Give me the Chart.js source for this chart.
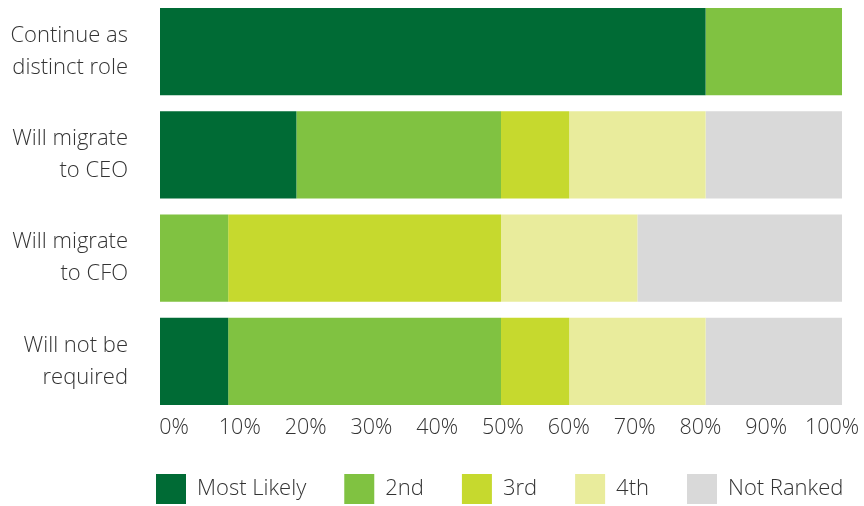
<!DOCTYPE html>
<html>
<head>
<meta charset="utf-8">
<script src="https://cdn.jsdelivr.net/npm/chart.js@4.4.0/dist/chart.umd.min.js"></script>
<style>
  html, body { margin: 0; padding: 0; background: #ffffff; }
  #wrap { width: 864px; height: 506px; }
</style>
</head>
<body>
<div id="wrap"><canvas id="c" width="864" height="506"></canvas></div>
<script>
const categories = [
  ['Continue as', 'distinct role'],
  ['Will migrate', 'to CEO'],
  ['Will migrate', 'to CFO'],
  ['Will not be', 'required']
];
const seriesNames = ['Most Likely', '2nd', '3rd', '4th', 'Not Ranked'];
const mostLikely = [80, 20, 0, 10];
const second     = [20, 30, 10, 40];
const third      = [0, 10, 40, 10];
const fourth     = [0, 20, 20, 20];
const notRanked  = [0, 20, 30, 20];
const xTickValues = [0, 10, 20, 30, 40, 50, 60, 70, 80, 90, 100];

const colors = ['#006B35', '#80C241', '#C6D92E', '#E9EC9C', '#D9D9D9'];
const seriesValues = [mostLikely, second, third, fourth, notRanked];
const textColor = '#333333';
const fontFamily = '"Open Sans", "Noto Sans", sans-serif';

const xLabelPlugin = {
  id: 'xLabels',
  afterDraw(chart) {
    const xs = chart.scales.x;
    const ctx = chart.ctx;
    ctx.save();
    ctx.font = '300 21.5px ' + fontFamily;
    ctx.fillStyle = textColor;
    ctx.textAlign = 'center';
    ctx.textBaseline = 'alphabetic';
    const span = xs.right - xs.left;
    xTickValues.forEach(v => {
      const frac = (xs.getPixelForValue(v) - xs.left) / span;
      const x = xs.left + 14 + frac * (span - 24);
      ctx.fillText(v + '%', x, chart.chartArea.bottom + 21);
    });
    ctx.restore();
  }
};

const legendShift = {
  id: 'legendShift',
  afterLayout(chart) {
    const lg = chart.legend;
    if (!lg) return;
    const dx = 118 - lg.left;
    lg.left += dx;
    lg.right += dx + 60;
  }
};

new Chart(document.getElementById('c'), {
  type: 'bar',
  data: {
    labels: categories,
    datasets: seriesNames.map((name, i) => ({
      label: name,
      data: seriesValues[i],
      backgroundColor: colors[i],
      borderWidth: 0,
      categoryPercentage: 1,
      barPercentage: 0.846
    }))
  },
  options: {
    indexAxis: 'y',
    responsive: false,
    animation: false,
    devicePixelRatio: 1,
    layout: { padding: { left: 0, right: 22, top: 0, bottom: -8 } },
    scales: {
      x: {
        stacked: true,
        min: 0,
        max: 100,
        grid: { display: false, drawTicks: false },
        border: { display: false },
        ticks: { display: false, stepSize: 10 },
        afterFit(scale) { scale.height = 23; scale.paddingLeft = 0; scale.paddingRight = 0; }
      },
      y: {
        stacked: true,
        grid: { display: false, drawTicks: false },
        border: { display: false },
        ticks: {
          padding: 32,
          color: textColor,
          font: { family: fontFamily, size: 22, weight: 300, lineHeight: 1.45 }
        },
        afterFit(scale) {
          scale.width = 160;
          scale.paddingTop = 0;
          scale.paddingBottom = 0;
        }
      }
    },
    plugins: {
      tooltip: { enabled: false },
      legend: {
        position: 'bottom',
        align: 'start',
        labels: {
          boxWidth: 30,
          boxHeight: 30,
          padding: 38,
          color: textColor,
          font: { family: fontFamily, size: 22, weight: 300 }
        }
      }
    }
  },
  plugins: [xLabelPlugin, legendShift]
});
</script>
</body>
</html>
